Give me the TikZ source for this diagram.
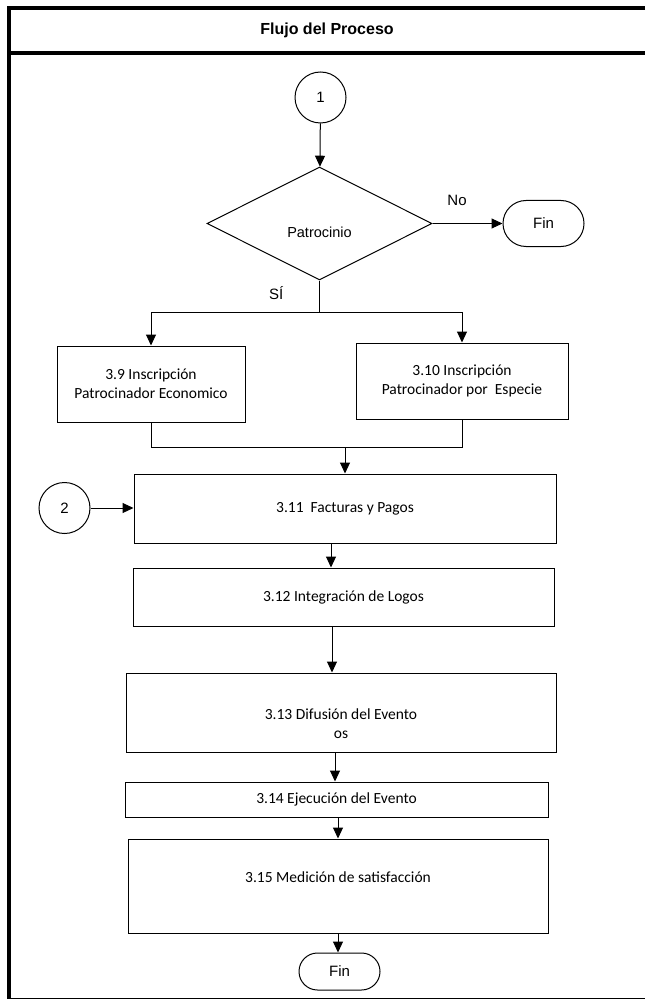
\documentclass[tikz,border=0pt]{standalone}
\usepackage{fontspec}
\setmainfont{Carlito}
\newfontfamily\arial{Liberation Sans}
\usetikzlibrary{positioning,calc,arrows.meta,shapes.geometric,shapes.misc}
\tikzset{
>={Triangle[length=11pt,width=10pt]},
  caja/.style={
    rectangle,
    draw=black, line width=1pt,
    align=center,
    inner sep=0pt,
    font=\fontsize{15.5}{19}\selectfont},
  decision/.style={
    diamond,
    draw=black, line width=1pt,
    minimum width=225pt,
    minimum height=113pt,
    inner sep=0pt,
    font=\arial\fontsize{14.5}{17}\selectfont},
  conector/.style={
    circle,
    draw=black, line width=1pt,
    minimum size=51pt,
    inner sep=0pt,
    font=\arial\fontsize{15}{18}\selectfont},
  terminal/.style={
    rounded rectangle,
    draw=black, line width=1pt,
    minimum width=81pt,
    inner sep=0pt,
    font=\arial\fontsize{15}{18}\selectfont},
  linea/.style={draw, line width=1pt, ->},
  etiqueta/.style={inner sep=0pt, font=\arial\fontsize{15}{18}\selectfont},
  titulo/.style={font=\arial\bfseries\fontsize{16}{19}\selectfont},
  marco/.style={line width=4pt},
}

\begin{document}
\begin{tikzpicture}[x=1pt, y=-1pt]
  \useasboundingbox (0,0) rectangle (645,1000);
  % marco de la tabla
  \draw[marco] (645,8) -- (9,8) -- (9,999);
  \draw[marco] (9,53) -- (645,53);
  \draw[line width=1.5pt] (7,998.5) -- (645,998.5);
  \node[titulo] (titulo) at (327,30) {Flujo del Proceso};
  % decision inicial
  \node[conector] (uno) at (320.5,97.5) {1};
  \node[decision, text height=28pt, text depth=1pt] (patro) at (319.5,223.5) {Patrocinio};
  \node[terminal, minimum height=46pt, right=70pt of patro] (finA) {Fin};
  \node[caja, minimum width=188pt, minimum height=76pt] (insEco) at (151,384)
    {3.9 Inscripción\\Patrocinador Economico};
  \node[caja, minimum width=212pt, minimum height=76pt] (insEsp) at (462,381)
    {3.10 Inscripción\\Patrocinador por~ Especie};
  % tramo central
  \node[conector] (dos) at (64.5,508) {2};
  \node[caja, minimum width=422pt, minimum height=69pt] (factura) at (345,508.5)
    {3.11~ Facturas y Pagos};
  \node[caja, minimum width=421pt, minimum height=58pt] (logos) at (343.5,597)
    {3.12 Integración de Logos};
  \node[caja, minimum width=430pt, minimum height=79pt, text height=52pt, text depth=1pt]
    (difusion) at (341,712.5) {3.13 Difusión del Evento\\os};
  \node[caja, minimum width=423pt, minimum height=35pt] (ejecucion) at (336.5,799.5)
    {3.14 Ejecución del Evento};
  \node[caja, minimum width=420pt, minimum height=94pt, text height=11pt, text depth=19pt]
    (medicion) at (338,886) {3.15 Medición de satisfacción};
  \node[terminal, minimum height=37pt] (finB) at (339.5,971.5) {Fin};
  % conexiones
  \draw[linea] (uno) -- (patro);
  \draw[linea] (patro) -- node[etiqueta, above=17pt, pos=0.35] {No} (finA);
  %% rama del Si
  \coordinate (rama) at ($(patro.south)+(0,32)$);
  \draw (patro.south) -- node[etiqueta, left=36pt, pos=0.4] {SÍ} (rama);
  \draw[linea] (rama) -| (insEco.north);
  \draw[linea] (rama) -| (insEsp.north);
  %% union hacia facturas
  \coordinate (junta) at ($(factura.north)+(0,-26)$);
  \draw (insEco.south) |- (junta);
  \draw (insEsp.south) |- (junta);
  \draw[linea] (junta) -- (factura.north);
  \draw[linea] (dos) -- (dos -| factura.west);
  %% secuencia vertical
  \draw[linea] ([xshift=-14pt]factura.south) -- ([xshift=-14pt]factura.south |- logos.north);
  \draw[linea] ([xshift=-11.5pt]logos.south) -- ([xshift=-11.5pt]logos.south |- difusion.north);
  \draw[linea] ([xshift=-6pt]difusion.south) -- ([xshift=-6pt]difusion.south |- ejecucion.north);
  \draw[linea] ([xshift=1.5pt]ejecucion.south) -- ([xshift=1.5pt]ejecucion.south |- medicion.north);
  \draw[linea] (medicion.south) -- (medicion.south |- finB.north);
\end{tikzpicture}
\end{document}
